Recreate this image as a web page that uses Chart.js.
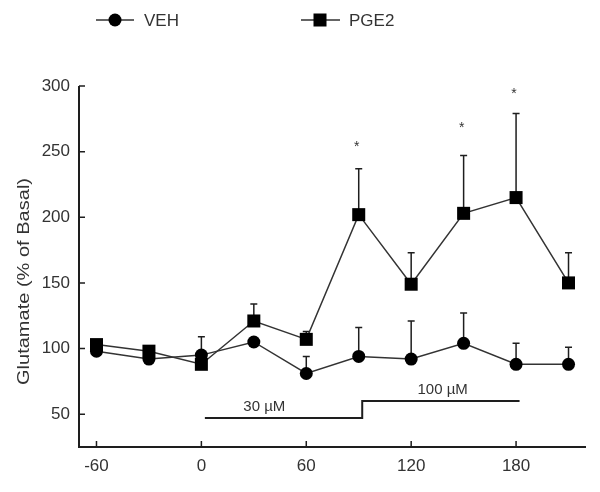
<!DOCTYPE html>
<html><head><meta charset="utf-8">
<script src="https://cdn.jsdelivr.net/npm/chart.js@4"></script>
<style>html,body{margin:0;padding:0;background:#fff}</style>
</head><body>
<canvas id="c" width="600" height="492"></canvas>
<script>
const times   = [-60, -30, 0, 30, 60, 90, 120, 150, 180, 210];
const vehMean = [98, 92, 95, 105, 81, 94, 92, 104, 88, 88];
const vehErr  = [0, 0, 14, 0, 13, 22, 29, 23, 16, 13];
const pgeMean = [103, 98, 88, 121, 107, 202, 149, 203, 215, 150];
const pgeErr  = [0, 0, 0, 13, 6, 35, 24, 44, 64, 23];
const starTimes = [90, 150, 180];
const starValues = [256, 270, 296];
const xTicks = [-60, 0, 60, 120, 180];
const yTicks = [50, 100, 150, 200, 250, 300];
const doseLabels = ['30 µM', '100 µM'];
const doseFrom = [2, 92];
const doseTo = [92, 182];
const doseLevel = [47, 60];
const doseLabelAt = [36, 138];
const yTitle = 'Glutamate (% of Basal)';
const seriesNames = ['VEH', 'PGE2'];

const INK = '#1e1e1e';
const FONT = '"Liberation Sans", Arial, sans-serif';

const annot = {
  id: 'annot',
  beforeDatasetsDraw(chart) {
    const ctx = chart.ctx, xs = chart.scales.x, ys = chart.scales.y;
    ctx.save();
    ctx.strokeStyle = INK; ctx.lineWidth = 1.5;
    [[vehMean, vehErr], [pgeMean, pgeErr]].forEach(([m, e]) => {
      times.forEach((t, i) => {
        if (!e[i]) return;
        const x = xs.getPixelForValue(t);
        const y0 = ys.getPixelForValue(m[i]);
        const y1 = ys.getPixelForValue(m[i] + e[i]);
        ctx.beginPath();
        ctx.moveTo(x, y0); ctx.lineTo(x, y1);
        ctx.moveTo(x - 3.5, y1); ctx.lineTo(x + 3.5, y1);
        ctx.stroke();
      });
    });
    ctx.restore();
  },
  afterDraw(chart) {
    const ctx = chart.ctx, xs = chart.scales.x, ys = chart.scales.y, ca = chart.chartArea;
    ctx.save();
    // axes
    ctx.strokeStyle = INK; ctx.lineWidth = 2;
    ctx.beginPath();
    ctx.moveTo(ca.left, ca.top); ctx.lineTo(ca.left, ca.bottom); ctx.lineTo(ca.right, ca.bottom);
    ctx.stroke();
    ctx.lineWidth = 1.5;
    ctx.beginPath();
    yTicks.forEach(v => { const y = ys.getPixelForValue(v); ctx.moveTo(ca.left, y); ctx.lineTo(ca.left + 6, y); });
    xTicks.forEach(v => { const x = xs.getPixelForValue(v); ctx.moveTo(x, ca.bottom); ctx.lineTo(x, ca.bottom - 6); });
    ctx.stroke();
    // dose lines
    ctx.lineWidth = 2;
    ctx.beginPath();
    doseFrom.forEach((f, i) => {
      const y = ys.getPixelForValue(doseLevel[i]);
      const x0 = xs.getPixelForValue(f), x1 = xs.getPixelForValue(doseTo[i]);
      if (i === 0) ctx.moveTo(x0, y); else ctx.lineTo(x0, y);
      ctx.lineTo(x1, y);
    });
    ctx.stroke();
    ctx.fillStyle = '#333';
    ctx.font = '15px ' + FONT;
    ctx.textAlign = 'center'; ctx.textBaseline = 'middle';
    doseLabels.forEach((l, i) => {
      ctx.fillText(l, xs.getPixelForValue(doseLabelAt[i]), ys.getPixelForValue(doseLevel[i]) - 11);
    });
    // stars
    ctx.font = '14px ' + FONT;
    ctx.textBaseline = 'alphabetic';
    starTimes.forEach((t, i) => {
      ctx.fillText('*', xs.getPixelForValue(t) - 2, ys.getPixelForValue(starValues[i]) + 7);
    });
    // legend
    ctx.strokeStyle = '#333'; ctx.lineWidth = 1.5; ctx.fillStyle = '#000';
    const ly = 20;
    ctx.beginPath(); ctx.moveTo(96, ly); ctx.lineTo(134, ly); ctx.moveTo(301, ly); ctx.lineTo(340, ly); ctx.stroke();
    ctx.beginPath(); ctx.arc(115, ly, 6.5, 0, Math.PI * 2); ctx.fill();
    ctx.fillRect(320 - 6.5, ly - 6.5, 13, 13);
    ctx.fillStyle = '#333';
    ctx.font = '17px ' + FONT; ctx.textAlign = 'left'; ctx.textBaseline = 'middle';
    ctx.fillText(seriesNames[0], 144, ly + 1);
    ctx.fillText(seriesNames[1], 349, ly + 1);
    // y title
    ctx.font = '17px ' + FONT;
    const w = ctx.measureText(yTitle).width;
    ctx.translate(24, 281.5);
    ctx.rotate(-Math.PI / 2);
    ctx.scale(207 / w, 1);
    ctx.textAlign = 'center'; ctx.textBaseline = 'middle';
    ctx.fillText(yTitle, 0, 0);
    ctx.restore();
  }
};

new Chart(document.getElementById('c'), {
  type: 'scatter',
  data: {
    datasets: [
      { label: seriesNames[0], data: times.map((t, i) => ({ x: t, y: vehMean[i] })),
        showLine: true, borderColor: '#333', borderWidth: 1.5,
        pointStyle: 'circle', pointRadius: 6.5, pointBackgroundColor: '#000', pointBorderColor: '#000', pointBorderWidth: 0 },
      { label: seriesNames[1], data: times.map((t, i) => ({ x: t, y: pgeMean[i] })),
        showLine: true, borderColor: '#333', borderWidth: 1.5,
        pointStyle: 'rect', pointRadius: 9.2, pointBackgroundColor: '#000', pointBorderColor: '#000', pointBorderWidth: 0 }
    ]
  },
  options: {
    responsive: false, animation: false,
    layout: { padding: { top: 86, right: 14, left: 0, bottom: 0 } },
    plugins: { legend: { display: false }, tooltip: { enabled: false } },
    scales: {
      x: {
        type: 'linear', min: -70, max: 220,
        afterBuildTicks(s) { s.ticks = xTicks.map(v => ({ value: v })); },
        afterFit(s) { s.height = 45; },
        grid: { display: false, drawTicks: false }, border: { display: false },
        ticks: { color: '#333', font: { size: 17, family: FONT }, padding: 9, maxRotation: 0, autoSkip: false }
      },
      y: {
        type: 'linear', min: 25, max: 300,
        afterBuildTicks(s) { s.ticks = yTicks.map(v => ({ value: v })); },
        afterFit(s) { s.width = 79; },
        grid: { display: false, drawTicks: false }, border: { display: false },
        ticks: { color: '#333', font: { size: 17, family: FONT }, padding: 9 }
      }
    }
  },
  plugins: [annot]
});
</script>
</body></html>
